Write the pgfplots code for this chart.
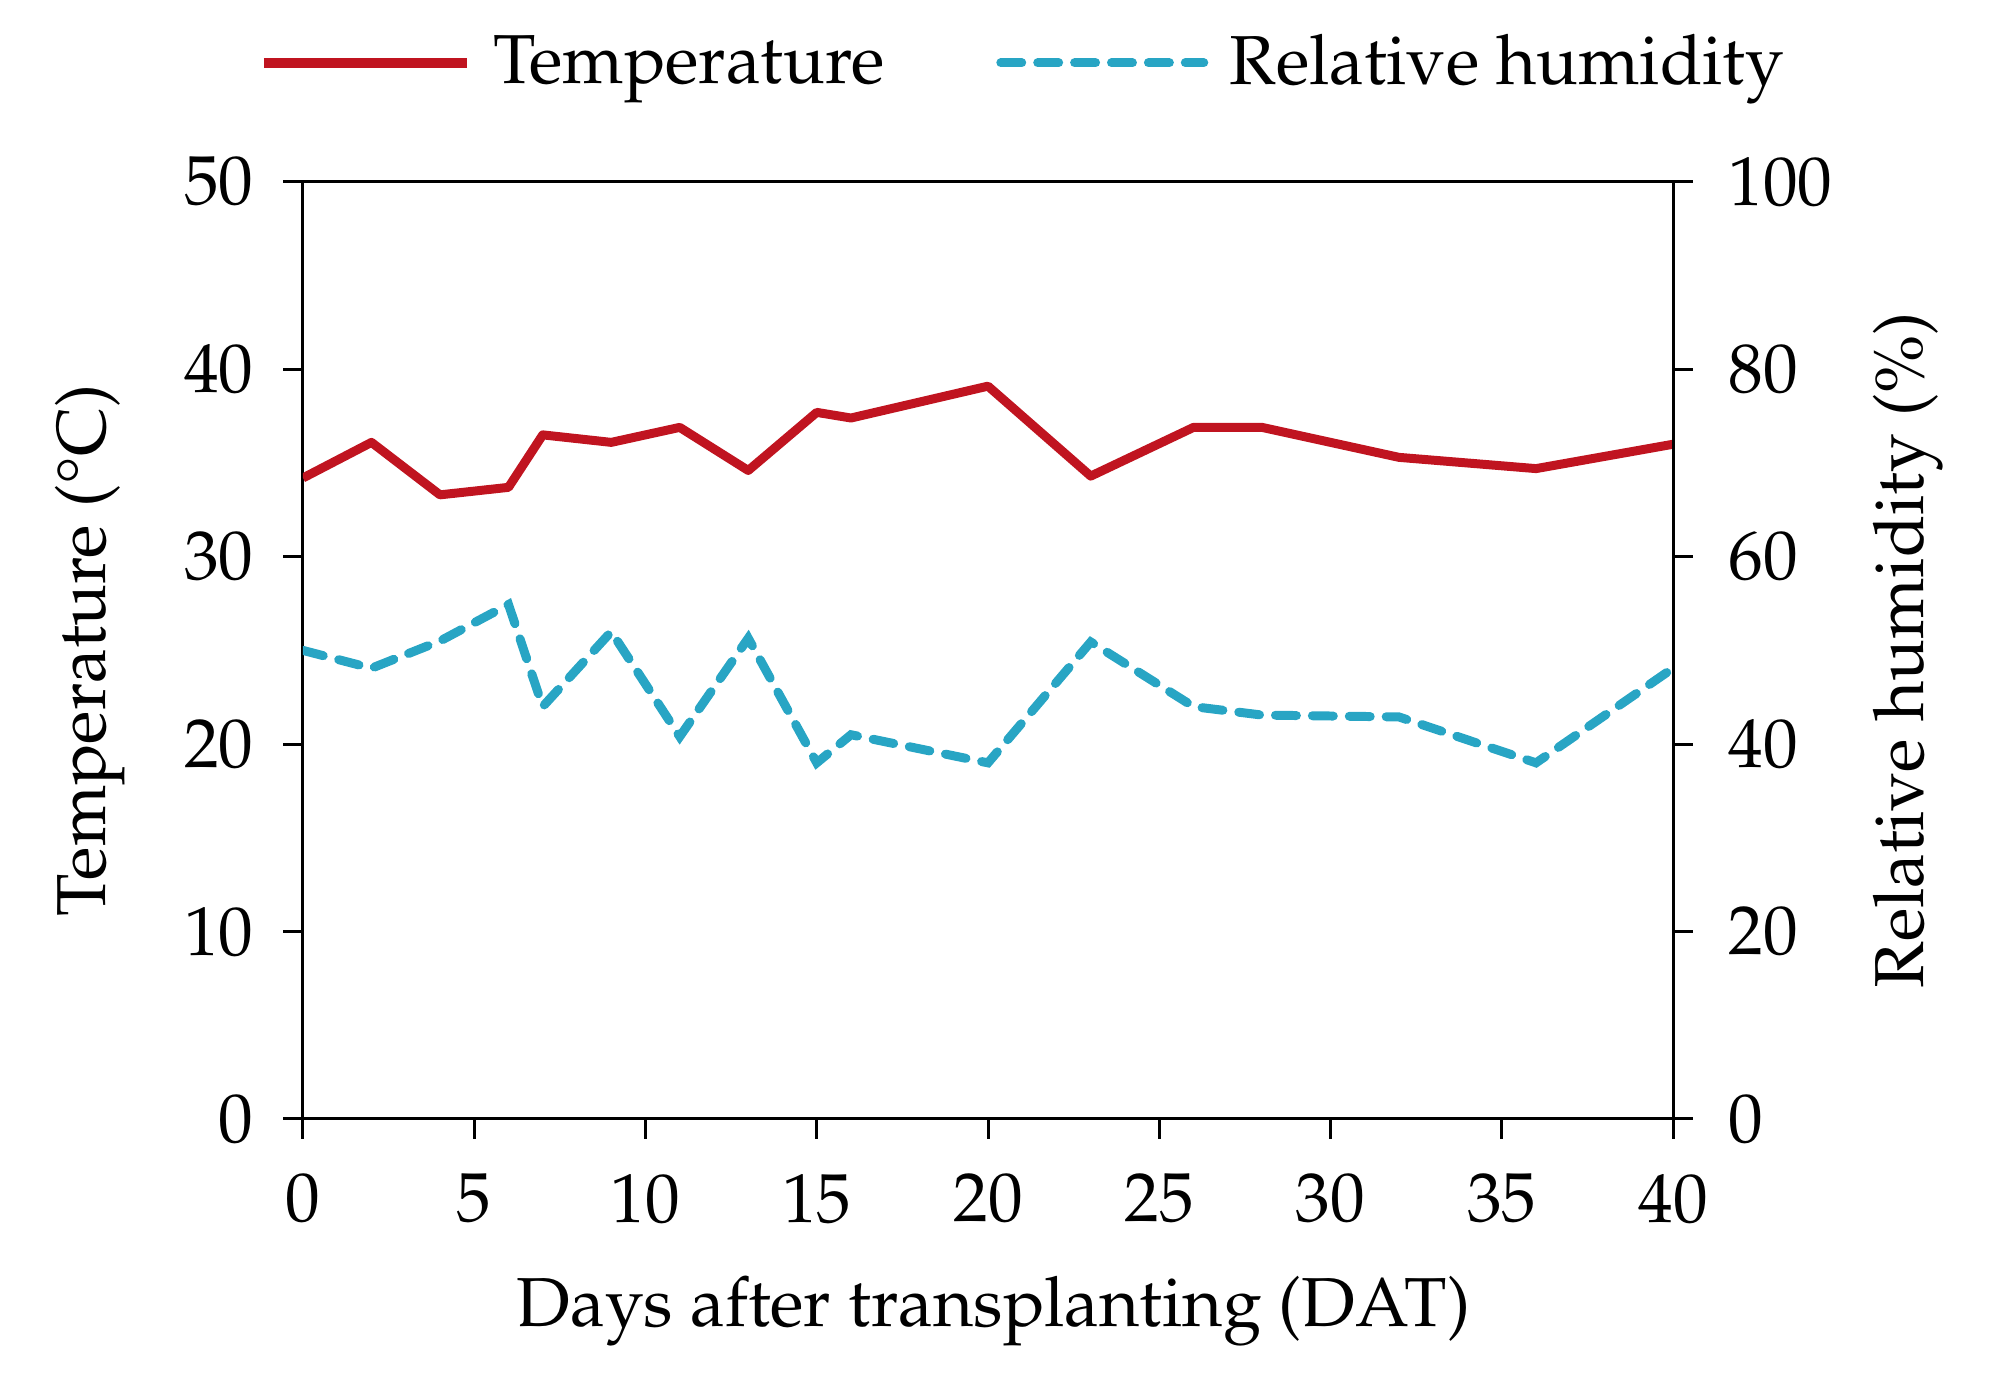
\documentclass[border=0pt]{standalone}
\usepackage[T1]{fontenc}
\usepackage{mathpazo}
\usepackage{textcomp}
\usepackage{pgfplots}
\usepackage{pgfplotstable}
\pgfplotsset{compat=1.18}
\definecolor{tred}{RGB}{192,20,32}
\definecolor{rhcyan}{RGB}{40,165,196}
\pgfplotstableread{
day temp
0 34.2
2 36.1
4 33.3
6 33.7
7 36.5
9 36.1
11 36.9
13 34.6
15 37.7
16 37.4
20 39.1
23 34.3
26 36.9
28 36.9
32 35.3
36 34.7
40 36.0
}\temptable
\pgfplotstableread{
day rh
0 50.0
2 48.1
4 51.0
6 54.9
7 44.0
9 52.0
11 40.8
13 51.3
15 38.0
16 41.0
20 38.0
23 50.9
26 44.0
28 43.1
32 42.9
36 38.0
40 48.1
}\rhtable
\newcommand{\chartfont}{\fontsize{13.9}{16}\selectfont}
\begin{document}
\begin{tikzpicture}
\useasboundingbox (-60.75pt,-54.14pt) rectangle (339.25pt,224.36pt);
\pgfplotsset{
  common/.style={
    width=274.7pt, height=187.9pt, scale only axis,
    at={(0pt,0pt)}, anchor=south west,
    xmin=0, xmax=40,
    tick align=outside, major tick length=4pt,
    tick style={black, line width=0.6pt},
    axis line style={black, line width=0.6pt},
    tick label style={font=\chartfont},
  }
}
\begin{axis}[common,
  ymin=0, ymax=50,
  xtick={0,5,...,40}, ytick={0,10,...,50},
  xtick pos=bottom, ytick pos=left,
  xticklabel shift=3.5pt, yticklabel shift=2.4pt,
  xlabel={Days after transplanting (DAT)},
  ylabel={Temperature (\textdegree C)},
  every axis x label/.style={at={(axis description cs:0.504,-0.205)}, anchor=center, font=\chartfont},
  every axis y label/.style={at={(axis description cs:-0.1555,0.5)}, rotate=90, anchor=center, font=\chartfont},
]
\addplot[tred, line width=1.8pt, line join=round] table[x=day, y=temp] {\temptable};
\end{axis}
\begin{axis}[common,
  ymin=0, ymax=100,
  ytick={0,20,...,100},
  axis x line=none,
  axis y line*=right,
  yticklabel shift=3.6pt,
  ylabel={Relative humidity (\%)},
  every axis y label/.style={at={(axis description cs:1.172,0.5)}, rotate=90, anchor=center, font=\chartfont},
  legend columns=2,
  legend style={at={(axis description cs:0.528,1.127)}, anchor=center, draw=none, fill=none,
    font=\chartfont,
    /tikz/every odd column/.append style={column sep=2.3pt},
    /tikz/every even column/.append style={column sep=20.4pt}},
  legend image code/.code={\draw[#1] (0pt,0pt) -- (40.7pt,0pt);},
]
\addlegendimage{tred, line width=2pt}
\addlegendentry{Temperature}
\addplot[rhcyan, line width=1.8pt, line cap=round, dash pattern=on 4.2pt off 3.2pt] table[x=day, y=rh] {\rhtable};
\addlegendentry{Relative humidity}
\end{axis}
\end{tikzpicture}
\end{document}
